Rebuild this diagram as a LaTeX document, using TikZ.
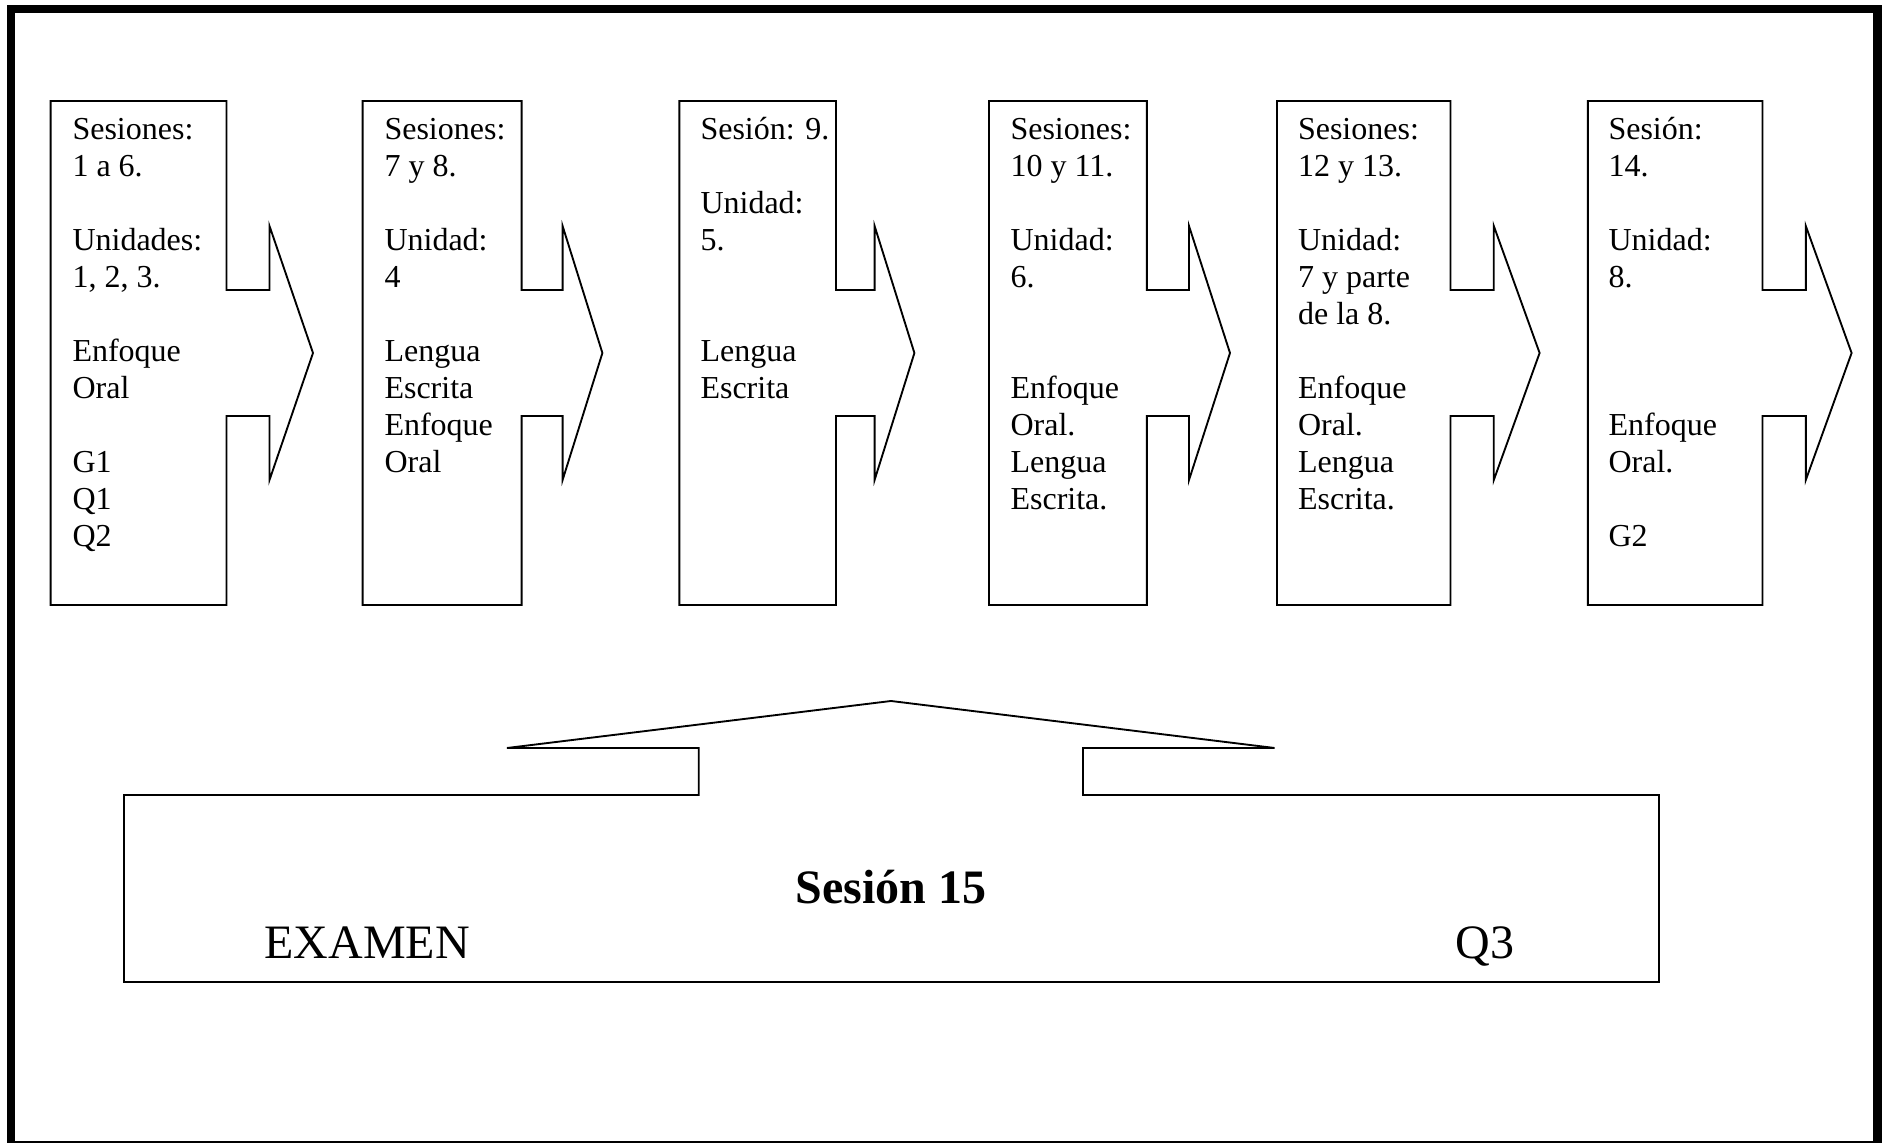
\documentclass[tikz,border=0pt]{standalone}
\usepackage{fontspec}
\setmainfont{Liberation Serif}
\begin{document}
\begin{tikzpicture}[x=0.375pt,y=-0.375pt,
  shapeline/.style={draw=black,line width=0.7pt,line join=miter},
  boxtext/.style={anchor=north west,inner sep=0pt,align=left,
    font=\fontsize{12}{13.875}\selectfont},
  bigtext/.style={inner sep=0pt,font=\fontsize{18}{21}\selectfont}]
\useasboundingbox (0,0) rectangle (1889,1143);
% outer frame
\draw[line width=3.1pt] (11.3,8.8) rectangle (1877.5,1145);

% session block with a notched arrow on its right side:
% #1 left edge, #2 right edge, #3 arrow base, #4 arrow tip
\newcommand\chevbox[4]{%
  \draw[shapeline] (#1,101) -- (#2,101) -- (#2,290) -- (#3,290) -- (#3,226)
    -- (#4,353) -- (#3,480) -- (#3,416) -- (#2,416) -- (#2,605) -- (#1,605) -- cycle;}

\chevbox{50.6}{226.5}{269.5}{313}
\chevbox{362.6}{521.6}{562.6}{602.4}
\chevbox{679.4}{836}{874.6}{914.4}
\chevbox{989}{1146.9}{1189}{1230}
\chevbox{1277}{1450.5}{1493.8}{1539.6}
\chevbox{1587.8}{1762.5}{1805.8}{1851.6}

\node[boxtext] (t1) at (72,113.1) {\strut Sesiones:\\\strut 1 a 6.\\\strut\\\strut Unidades:\\\strut 1, 2, 3.\\\strut\\\strut Enfoque\\\strut Oral\\\strut\\\strut G1\\\strut Q1\\\strut Q2};
\node[boxtext] (t2) at (384,113.1) {\strut Sesiones:\\\strut 7 y 8.\\\strut\\\strut Unidad:\\\strut 4\\\strut\\\strut Lengua\\\strut Escrita\\\strut Enfoque\\\strut Oral};
\node[boxtext] (t3) at (700,113.1) {\strut Sesión: 9.\\\strut\\\strut Unidad:\\\strut 5.\\\strut\\\strut\\\strut Lengua\\\strut Escrita};
\node[boxtext] (t4) at (1010,113.1) {\strut Sesiones:\\\strut 10 y 11.\\\strut\\\strut Unidad:\\\strut 6.\\\strut\\\strut\\\strut Enfoque\\\strut Oral.\\\strut Lengua\\\strut Escrita.};
\node[boxtext] (t5) at (1297.5,113.1) {\strut Sesiones:\\\strut 12 y 13.\\\strut\\\strut Unidad:\\\strut 7 y parte\\\strut de la 8.\\\strut\\\strut Enfoque\\\strut Oral.\\\strut Lengua\\\strut Escrita.};
\node[boxtext] (t6) at (1608,113.1) {\strut Sesión:\\\strut 14.\\\strut\\\strut Unidad:\\\strut 8.\\\strut\\\strut\\\strut\\\strut Enfoque\\\strut Oral.\\\strut\\\strut G2};

% final session block with its upward arrow
\draw[shapeline] (124,795) -- (698.7,795) -- (698.7,748) -- (507,748) -- (891,701)
  -- (1274.6,748) -- (1083,748) -- (1083,795) -- (1659,795) -- (1659,982)
  -- (124,982) -- cycle;

\node[bigtext,anchor=base,font=\fontsize{18}{21}\selectfont\bfseries] (s15) at (891,904) {Sesión 15};
\node[bigtext,anchor=base west] (exam) at (264,959) {EXAMEN};
\node[bigtext,anchor=base west] (q3) at (1455,959) {Q3};
\end{tikzpicture}
\end{document}
